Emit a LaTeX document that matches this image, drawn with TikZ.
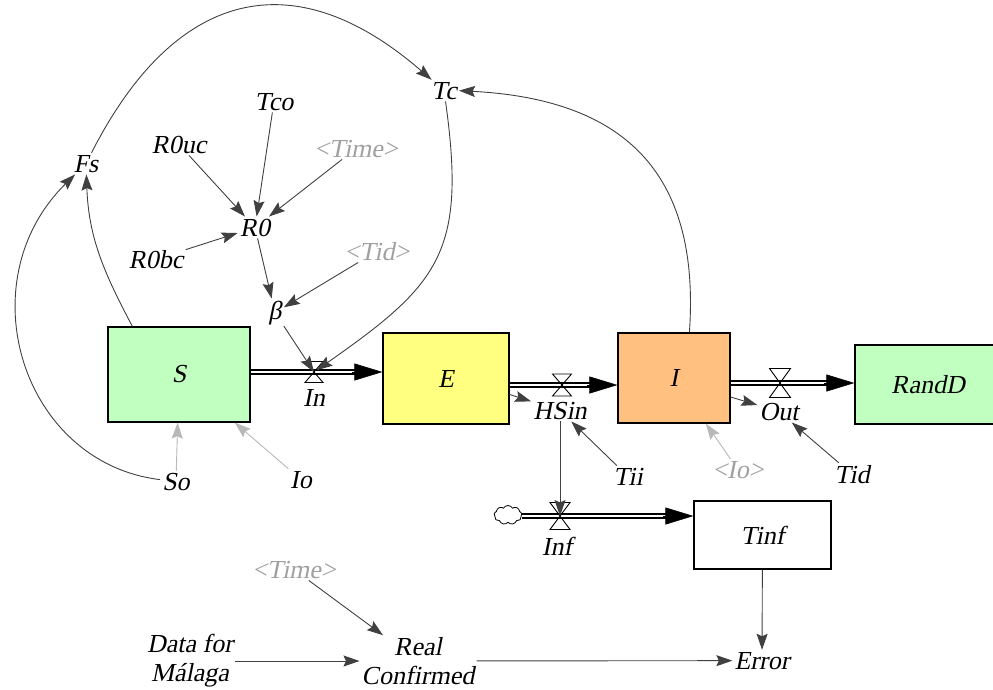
\documentclass[tikz,border=0pt]{standalone}
\usepackage{fontspec}
\newfontfamily\vfont{Liberation Serif}[FakeSlant=0.2]
\usetikzlibrary{arrows.meta,calc,shapes.symbols}
\definecolor{sgreen}{HTML}{C0FFC0}
\definecolor{syellow}{HTML}{FFFF80}
\definecolor{sorange}{HTML}{FFC080}
\definecolor{conncol}{HTML}{404040}
\definecolor{lightcol}{HTML}{B8B8B8}
\definecolor{shadowgray}{HTML}{A0A0A0}
\tikzset{
  lab/.style={anchor=base, inner sep=2pt, text=black},
  shadowlab/.style={lab, text=shadowgray},
  conn/.style={draw=conncol, line width=0.9pt, -{Stealth[length=16pt,width=11pt,inset=2.5pt]}},
  iconn/.style={conn, draw=lightcol},
  stock/.style={draw=black, line width=1.2pt, inner sep=0pt},
  pipe/.style={draw=black, double=white, line width=1.2pt, double distance=2.8pt},
  flowhead/.style={draw=black, fill=black, line width=0.6pt, -{Triangle[length=28pt,width=17pt]}},
  valvest/.style={draw=black, line width=0.9pt},
  pics/valve/.style n args={2}{code={
    \draw[valvest] (-#1,-#2) -- (#1,-#2) -- (0,0) -- cycle
                   (-#1,#2) -- (#1,#2) -- (0,0) -- cycle;}}
}
\begin{document}
\begin{tikzpicture}[x=1pt,y=-1pt,font=\vfont\fontsize{26}{29}\selectfont]
\useasboundingbox (0,0) rectangle (993,689);

% stocks
\node[stock, fill=sgreen, minimum width=142pt, minimum height=95pt] (S) at (179,374.5) {S};
\node[stock, fill=syellow, minimum width=126pt, minimum height=91pt] (E) at (446,378.5) {E};
\node[stock, fill=sorange, minimum width=112pt, minimum height=90pt] (I) at (674,378) {I};
\node[stock, fill=sgreen, minimum width=146pt, minimum height=79pt] (RandD) at (928,384.5) {RandD};
\node[stock, fill=white, minimum width=137pt, minimum height=68pt] (Tinf) at (762.5,535) {Tinf};
\node[cloud, draw=black, line width=0.8pt, cloud puffs=9, cloud puff arc=120, aspect=1.4,
      minimum width=28pt, minimum height=19pt, inner sep=0pt] (cl) at (508,515) {};

% valves
\coordinate (vIn) at (314,372);
\coordinate (vHS) at (562,385);
\coordinate (vOut) at (780,383);
\coordinate (vInf) at (560,516);

% pipes
\draw[pipe] (S.east|-vIn) -- ($(E.west|-vIn)+(-26,0)$);
\draw[flowhead] ($(E.west|-vIn)+(-30,0)$) -- (E.west|-vIn);
\draw[pipe] (E.east|-vHS) -- ($(I.west|-vHS)+(-26,0)$);
\draw[flowhead] ($(I.west|-vHS)+(-30,0)$) -- (I.west|-vHS);
\draw[pipe] (I.east|-vOut) -- ($(RandD.west|-vOut)+(-26,0)$);
\draw[flowhead] ($(RandD.west|-vOut)+(-30,0)$) -- (RandD.west|-vOut);
\draw[pipe] (cl.east|-vInf) -- ($(Tinf.west|-vInf)+(-26,0)$);
\draw[flowhead] ($(Tinf.west|-vInf)+(-30,0)$) -- (Tinf.west|-vInf);

\pic at (vIn) {valve={9}{10.5}};
\pic at (vHS) {valve={9.5}{11}};
\pic at (vOut) {valve={10.5}{14.5}};
\pic at (vInf) {valve={10}{13.5}};

% labels
\node[lab] (Tc) at (444,99) {Tc};
\node[lab] (Tco) at (274,110) {Tco};
\node[lab] (R0uc) at (179,153) {R0uc};
\node[shadowlab] (TimeA) at (356,157) {<Time>};
\node[lab] (Fs) at (86,172) {Fs};
\node[lab] (R0) at (255,236) {R0};
\node[lab] (R0bc) at (156,268) {R0bc};
\node[shadowlab] (TidA) at (377,260) {<Tid>};
\node[lab] (beta) at (275,319) {β};
\node[lab] (In) at (314,406) {In};
\node[lab] (HSin) at (560,419) {HSin};
\node[lab] (Io) at (301,488) {Io};
\node[lab] (So) at (176,490) {So};
\node[lab] (Tii) at (628,485) {Tii};
\node[shadowlab] (IoA) at (738,478) {<Io>};
\node[lab] (Tid) at (852,483) {Tid};
\node[lab] (Out) at (779,420) {Out};
\node[lab] (Inf) at (557,555) {Inf};
\node[shadowlab] (TimeB) at (294,578) {<Time>};
\node[lab] (Error) at (762,669) {Error};
\node[inner sep=2pt, align=center] (Data) at (190,661) {Data for\\Málaga};
\node[inner sep=2pt, align=center] (Real) at (418,661) {Real\\Confirmed};

% connectors
\draw[conn] (Fs) to[out=63,in=139,looseness=1.35] (Tc);
\draw[conn] ($(S.north west)+(25,0)$) to[out=118,in=-88] (Fs);
\draw[conn] (So) .. controls (22,463) and (-34,282) .. (Fs);
\draw[conn, shorten >=3pt] (Tc) to[out=-82,in=35,looseness=1.3] (vIn);
\draw[conn] ($(I.north west)+(72,0)$) to[out=86,in=-3,looseness=1.25] (Tc.east);
\draw[conn] (Tco) -- (R0);
\draw[conn] (R0uc) -- (R0);
\draw[conn] (TimeA) -- (R0);
\draw[conn] (R0bc) -- (R0);
\draw[conn] (R0) -- (beta);
\draw[conn] (TidA) -- (beta);
\draw[conn] (beta) -- (vIn);
\draw[conn] ($(E.east)+(0,16)$) -- (HSin);
\draw[conn] (Tii) -- (HSin);
\draw[conn] (HSin) -- (vInf);
\draw[conn] ($(I.east)+(0,19)$) -- (Out);
\draw[conn] (Tid) -- (Out);
\draw[iconn] (IoA) -- (I);
\draw[iconn] (So) -- (S);
\draw[iconn] (Io) -- (S);
\draw[conn] (Tinf) -- (Error);
\draw[conn] (TimeB) -- (Real);
\draw[conn] (Data) -- (Real);
\draw[conn] (Real) -- (Error);
\end{tikzpicture}
\end{document}
